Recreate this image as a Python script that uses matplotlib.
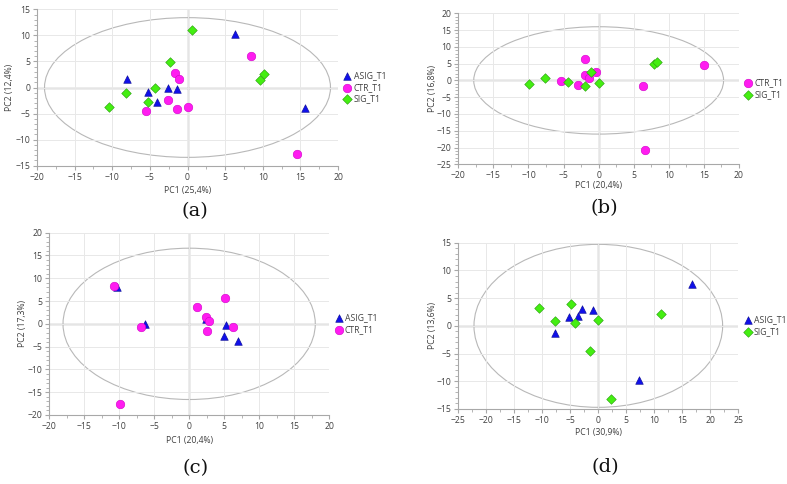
import matplotlib
matplotlib.use("Agg")
import matplotlib.pyplot as plt
from matplotlib.patches import Ellipse
from matplotlib.ticker import MultipleLocator, AutoMinorLocator

# ---- data ----
# Panel (a)
a_asig_x = [-8.1, -5.2, -4.0, -2.6, -1.4, 6.3, 15.6]
a_asig_y = [1.6, -0.8, -2.7, 0.0, -0.3, 10.3, -3.9]
a_ctr_x = [-5.5, -2.6, -1.7, -1.1, -1.4, 0.0, 8.5, 14.6]
a_ctr_y = [-4.5, -2.4, 2.8, 1.6, -4.2, -3.7, 6.1, -12.7]
a_sig_x = [-10.4, -8.2, -4.3, -5.2, -2.3, 0.6, 9.6, 10.1]
a_sig_y = [-3.8, -1.1, -0.1, -2.7, 4.8, 11.0, 1.5, 2.5]

# Panel (b)
b_ctr_x = [-5.3, -3.0, -2.0, -1.9, -1.4, -0.4, 6.3, 6.6, 15.0]
b_ctr_y = [-0.1, -1.3, 6.3, 1.5, 0.7, 2.6, -1.7, -20.6, 4.6]
b_sig_x = [-9.9, -7.7, -4.3, -2.0, -1.1, 0.1, 7.9, 8.3]
b_sig_y = [-1.2, 0.7, -0.4, -1.7, 2.6, -0.9, 4.8, 5.5]

# Panel (c)
c_asig_x = [-10.3, -6.3, 2.4, 5.2, 5.0, 6.9]
c_asig_y = [8.0, 0.0, 1.1, -0.3, -2.7, -3.7]
c_ctr_x = [-10.7, -6.9, -9.8, 1.1, 2.4, 2.8, 2.6, 5.1, 6.3]
c_ctr_y = [8.4, -0.6, -17.5, 3.6, 1.6, 0.6, -1.6, 5.7, -0.7]

# Panel (d)
d_asig_x = [-7.8, -5.2, -3.6, -2.9, -1.0, 7.3, 16.8]
d_asig_y = [-1.3, 1.6, 1.8, 3.0, 2.9, -9.8, 7.5]
d_sig_x = [-10.6, -7.7, -4.9, -4.1, -1.5, -0.1, 11.2, 2.2]
d_sig_y = [3.2, 0.9, 3.9, 0.5, -4.5, 1.1, 2.1, -13.2]

# axis labels
a_xlabel, a_ylabel = "PC1 (25,4%)", "PC2 (12,4%)"
b_xlabel, b_ylabel = "PC1 (20,4%)", "PC2 (16,8%)"
c_xlabel, c_ylabel = "PC1 (20,4%)", "PC2 (17,3%)"
d_xlabel, d_ylabel = "PC1 (30,9%)", "PC2 (13,6%)"

STY = {
    "ASIG_T1": dict(marker="^", color="#1010e8", edgecolor="#0a0a90", s=30),
    "CTR_T1": dict(marker="o", color="#ff1cf0", edgecolor="#d000c8", s=38),
    "SIG_T1": dict(marker="D", color="#44ee11", edgecolor="#2a9a10", s=24),
}

W, H = 787, 484
fig = plt.figure(figsize=(W / 100, H / 100), dpi=100)
FONT = "Open Sans"
TXT = "#404040"
FS = 6.2


def panel(box, xlim, ylim, ell, series, xlabel, ylabel, tag, tagpos, ylab_x, xlab_y):
    l, t, r, b = box
    ax = fig.add_axes([l / W, 1 - b / H, (r - l) / W, (b - t) / H])
    ax.set_xlim(*xlim)
    ax.set_ylim(*ylim)
    ax.xaxis.set_major_locator(MultipleLocator(5))
    ax.yaxis.set_major_locator(MultipleLocator(5))
    ax.xaxis.set_minor_locator(AutoMinorLocator(2))
    ax.yaxis.set_minor_locator(AutoMinorLocator(5))
    ax.grid(True, which="major", color="#e8e8e8", lw=0.7, zorder=0)
    for s in ["top", "right"]:
        ax.spines[s].set_visible(False)
    for s in ["left", "bottom"]:
        ax.spines[s].set_color("#a8a8a8")
        ax.spines[s].set_linewidth(0.8)
    ax.tick_params(which="both", colors="#a8a8a8", labelcolor=TXT, labelsize=FS, pad=2)
    ax.tick_params(which="major", length=3)
    ax.tick_params(which="minor", length=2)
    for lab in ax.get_xticklabels() + ax.get_yticklabels():
        lab.set_fontfamily(FONT)
    ax.axhline(0, color="#a0a0a0", lw=1.0, zorder=1)
    ax.axvline(0, color="#a0a0a0", lw=1.0, zorder=1)
    ax.add_patch(Ellipse((0, 0), 2 * ell[0], 2 * ell[1], fill=False,
                         edgecolor="#b8b8b8", lw=0.8, zorder=1))
    for name, xs, ys in series:
        st = STY[name]
        ax.scatter(xs, ys, marker=st["marker"], s=st["s"], c=st["color"],
                   edgecolors=st["edgecolor"], linewidths=0.4, label=name, zorder=3)
    ax.set_xlabel(xlabel, fontsize=FS, color=TXT, family=FONT, va="center")
    ax.set_ylabel(ylabel, fontsize=FS, color=TXT, family=FONT, va="center")
    ax.xaxis.set_label_coords(0.5, -(xlab_y - b) / (b - t))
    ax.yaxis.set_label_coords((ylab_x - l) / (r - l), 0.5)
    leg = ax.legend(loc="center left", bbox_to_anchor=(1.0, 0.5), frameon=False,
                    handletextpad=0.0, borderaxespad=0.2, labelspacing=0.3,
                    prop={"family": FONT, "size": FS}, handlelength=1.4,
                    borderpad=0.2)
    for t_ in leg.get_texts():
        t_.set_color(TXT)
    fig.text(tagpos[0] / W, 1 - tagpos[1] / H, tag, ha="center", va="center",
             family="DejaVu Serif", fontsize=14, color="#111111")
    return ax


panel((37, 9.3, 338, 165.7), (-20, 20), (-15, 15), (19.0, 13.4),
      [("ASIG_T1", a_asig_x, a_asig_y), ("CTR_T1", a_ctr_x, a_ctr_y), ("SIG_T1", a_sig_x, a_sig_y)],
      a_xlabel, a_ylabel, "(a)", (195, 211), 10, 190)

panel((458.3, 13.3, 739, 164.3), (-20, 20), (-25, 20), (17.8, 16.0),
      [("CTR_T1", b_ctr_x, b_ctr_y), ("SIG_T1", b_sig_x, b_sig_y)],
      b_xlabel, b_ylabel, "(b)", (604, 208), 433, 185.5)

panel((49, 232.7, 329.3, 415), (-20, 20), (-20, 20), (18.0, 16.6),
      [("ASIG_T1", c_asig_x, c_asig_y), ("CTR_T1", c_ctr_x, c_ctr_y)],
      c_xlabel, c_ylabel, "(c)", (196, 468), 23, 440)

panel((458.3, 242.7, 738.3, 409), (-25, 25), (-15, 15), (22.2, 14.7),
      [("ASIG_T1", d_asig_x, d_asig_y), ("SIG_T1", d_sig_x, d_sig_y)],
      d_xlabel, d_ylabel, "(d)", (605, 467), 432, 432.5)

fig.savefig("out.png", dpi=100)
